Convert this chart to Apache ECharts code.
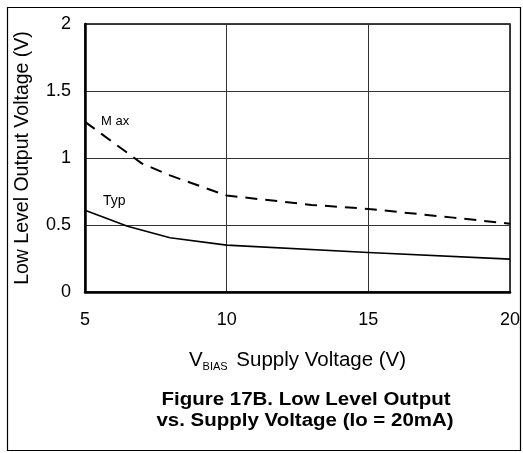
<!DOCTYPE html>
<html><head><meta charset="utf-8">
<script src="https://cdn.jsdelivr.net/npm/echarts@6/dist/echarts.min.js"></script>
<style>html,body{margin:0;padding:0;background:#fff}#c{width:523px;height:453px}</style>
</head><body><div id="c"></div>
<script>
const typX = [5, 6.5, 8, 10, 15, 20];
const typY = [0.61, 0.49, 0.405, 0.35, 0.295, 0.245];
const maxX = [5, 7, 8, 10, 13, 15, 18, 20];
const maxY = [1.27, 0.96, 0.87, 0.72, 0.65, 0.62, 0.555, 0.51];
const xTicks = [5, 10, 15, 20];
const yTicks = [0, 0.5, 1, 1.5, 2];
const titleLines = ['Figure 17B. Low Level Output', 'vs. Supply Voltage (Io = 20mA)'];
const F = 'Liberation Sans, Arial, sans-serif';
const chart = echarts.init(document.getElementById('c'));
chart.setOption({
  animation: false,
  backgroundColor: '#fff',
  grid: {left: 85, right: 13, top: 24, bottom: 161, containLabel: false, outerBoundsMode: 'none', show: true, borderColor: '#000', borderWidth: 1.5, backgroundColor: 'transparent'},
  xAxis: {
    type: 'value', min: 5, max: 20, interval: 5,
    axisLine: {show: true, lineStyle: {color: '#000', width: 2.5}},
    axisTick: {show: false},
    splitLine: {show: true, lineStyle: {color: '#333', width: 1}},
    axisLabel: {color: '#000', fontSize: 18, fontFamily: F, margin: 19,
      formatter: v => xTicks.includes(v) ? String(v) : ''},
    name: '{v|V}{s|BIAS} Supply Voltage (V)', nameLocation: 'middle', nameGap: 56,
    nameTextStyle: {color: '#000', fontSize: 20.5, fontFamily: F,
      rich: {v: {fontSize: 20.5, fontFamily: F, color: '#000'}, s: {fontSize: 11, fontFamily: F, color: '#000', verticalAlign: 'bottom', padding: [13, 3, 0, 0]}}}
  },
  yAxis: {
    type: 'value', min: 0, max: 2, interval: 0.5,
    axisLine: {show: true, lineStyle: {color: '#000', width: 2.5}},
    axisTick: {show: false},
    splitLine: {show: true, lineStyle: {color: '#333', width: 1}},
    axisLabel: {color: '#000', fontSize: 18, fontFamily: F, margin: 14,
      formatter: v => yTicks.includes(v) ? String(v) : ''},
    name: 'Low Level Output Voltage (V)', nameLocation: 'middle', nameGap: 52,
    nameTextStyle: {color: '#000', fontSize: 19.5, fontFamily: F}
  },
  series: [
    {type: 'line', data: typX.map((x, i) => [x, typY[i]]), symbol: 'none',
      lineStyle: {color: '#000', width: 1.6}},
    {type: 'line', data: maxX.map((x, i) => [x, maxY[i]]), symbol: 'none',
      lineStyle: {color: '#000', width: 2, type: [12, 8]}}
  ],
  graphic: [
    {type: 'rect', left: 5, top: 5, shape: {width: 513, height: 443}, style: {fill: 'none', stroke: '#000', lineWidth: 1.2}, z: -1},
    {type: 'text', left: 101, top: 115, style: {text: 'M ax', fontSize: 13, fontFamily: F, fill: '#000'}},
    {type: 'text', left: 103, top: 194, style: {text: 'Typ', fontSize: 14, fontFamily: F, fill: '#000'}},
    {type: 'text', x: 306, y: 400, scaleX: 1.17, style: {text: titleLines[0], fontSize: 17.5, fontWeight: 'bold', fontFamily: F, fill: '#000', align: 'center', verticalAlign: 'middle'}},
    {type: 'text', x: 305, y: 421, scaleX: 1.17, style: {text: titleLines[1], fontSize: 17.5, fontWeight: 'bold', fontFamily: F, fill: '#000', align: 'center', verticalAlign: 'middle'}}
  ]
});
</script></body></html>
